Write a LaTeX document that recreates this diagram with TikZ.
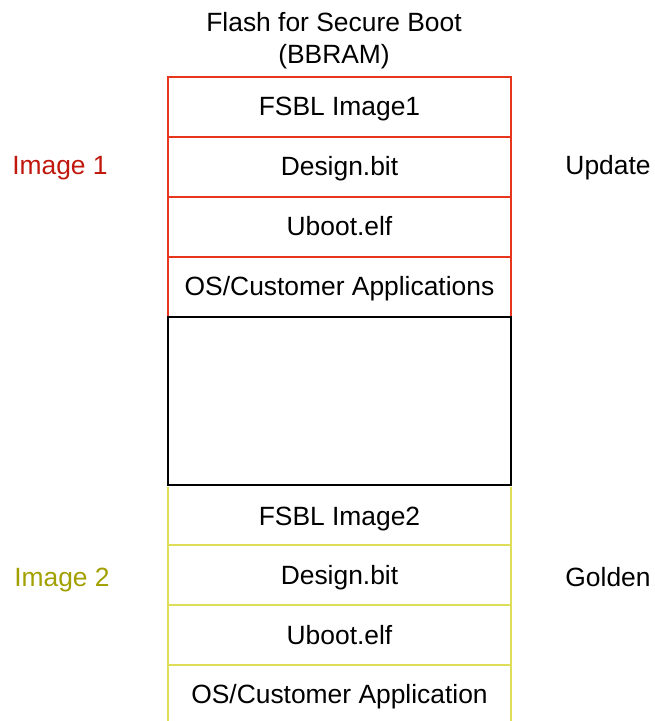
\documentclass[tikz,border=0pt]{standalone}
\usepackage{fontspec}
\setmainfont{Liberation Sans}
\definecolor{redline}{HTML}{E8351E}
\definecolor{redtext}{HTML}{C0180C}
\definecolor{yelline}{HTML}{DEDE58}
\definecolor{yeltext}{HTML}{A2A000}
\tikzset{
  lbl/.style={font=\fontsize{26.4}{31}\selectfont, inner sep=0pt, anchor=base},
  redrow/.style={draw=redline, line width=2.5pt},
  yelrow/.style={draw=yelline, line width=2.5pt},
}
\begin{document}
\begin{tikzpicture}[x=1pt,y=-1pt]
\useasboundingbox (0,0) rectangle (654,721);
% title
\node[lbl] (t1) at (334,31.5) {Flash for Secure Boot};
\node[lbl] (t2) at (334,63) {(BBRAM)};
% black empty box
\draw[line width=2.5pt, black] (168,317) rectangle (511,485);
% red rows
\draw[redrow] (168,77) rectangle (511,137);
\draw[redrow] (168,137) rectangle (511,197);
\draw[redrow] (168,197) rectangle (511,257);
\draw[redrow] (168,257) -- (168,316);
\draw[redrow] (511,257) -- (511,316);
\draw[redrow] (168,257) -- (511,257);
% yellow rows
\draw[yelrow] (168,486.5) -- (168,722);
\draw[yelrow] (511,486.5) -- (511,722);
\draw[yelrow] (168,545) -- (511,545);
\draw[yelrow] (168,605) -- (511,605);
\draw[yelrow] (168,665) -- (511,665);
% texts
\node[lbl] (r1) at (339.5,115.5) {FSBL Image1};
\node[lbl] (r2) at (339.5,175.5) {Design.bit};
\node[lbl] (r3) at (339.5,235.5) {Uboot.elf};
\node[lbl] (r4) at (339.5,295.5) {OS/Customer Applications};
\node[lbl] (y1) at (339.5,525.5) {FSBL Image2};
\node[lbl] (y2) at (339.5,584.5) {Design.bit};
\node[lbl] (y3) at (339.5,644.5) {Uboot.elf};
\node[lbl] (y4) at (339.5,703.5) {OS/Customer Application};
\node[lbl, text=redtext] (i1) at (60,174.5) {Image 1};
\node[lbl, text=yeltext] (i2) at (62,586.5) {Image 2};
\node[lbl] (u) at (608,174.5) {Update};
\node[lbl] (g) at (608,586.5) {Golden};
\end{tikzpicture}
\end{document}
